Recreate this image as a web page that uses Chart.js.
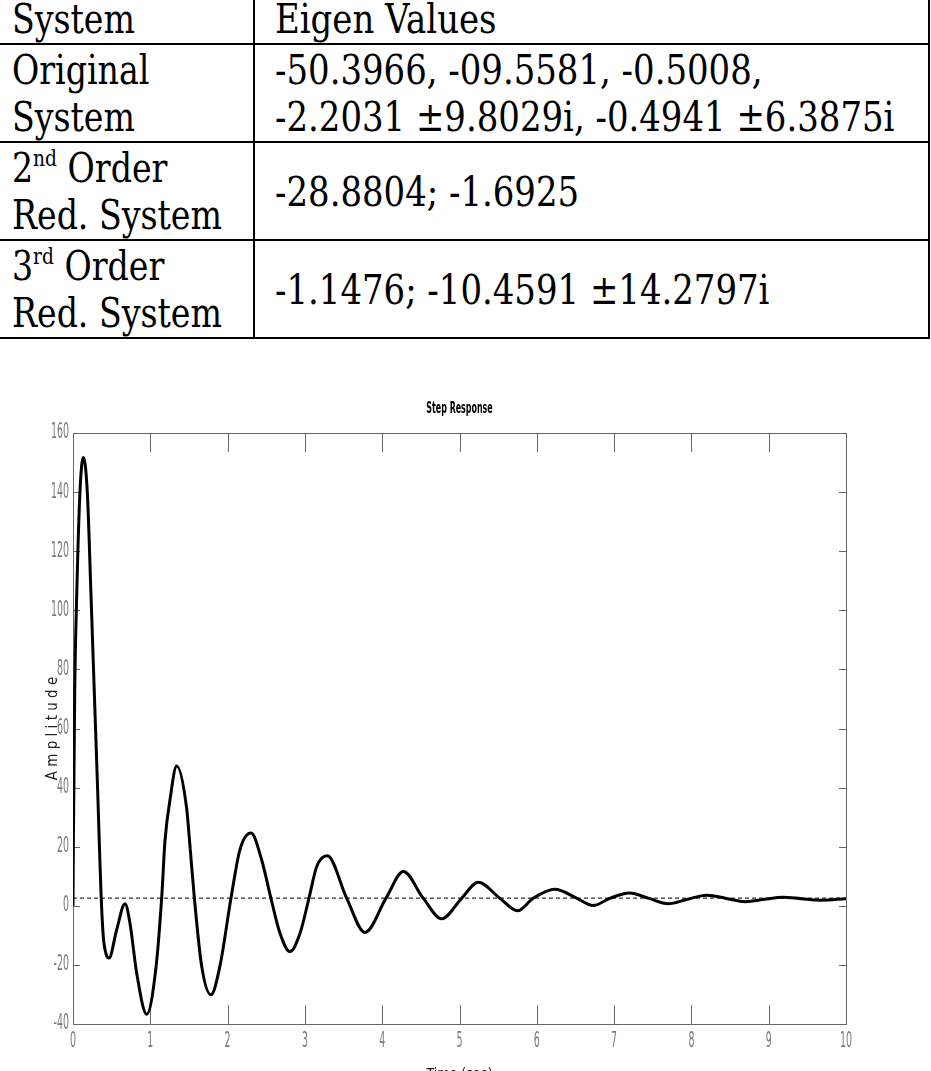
<!DOCTYPE html>
<html>
<head>
<meta charset="utf-8">
<script src="https://cdn.jsdelivr.net/npm/chart.js@4"></script>
<style>
  body { margin: 0; background: #fff; overflow: hidden; width: 931px; height: 1071px; position: relative; }
  #eig { position: absolute; left: -2px; top: -8px; width: 930px; table-layout: fixed; border-collapse: collapse;
         font-family: "DejaVu Serif Condensed", "DejaVu Serif", serif;
         font-size: 41px; line-height: 47px; color: #000; }
  #eig td { border: 2px solid #000; padding: 2px 0 0 0; vertical-align: top; white-space: nowrap; overflow: visible; }
  #eig td.c1 { padding-left: 12px; }
  #eig td.c2 { padding-left: 20px; }
  #eig td.mid { vertical-align: middle; }
  #eig .sq { display: block; transform: scaleX(0.9); transform-origin: 0 50%; }
  #eig td.c2 .sq { transform: scaleX(0.92); }
  #eig sup { font-size: 23px; line-height: 0; vertical-align: 16px; }
  #wrap { position: absolute; left: 0; top: 395px; width: 931px; height: 695px; }
</style>
</head>
<body>
<table id="eig">
  <colgroup><col style="width:255px"><col style="width:675px"></colgroup>
  <tr><td class="c1"><span class="sq">System</span></td><td class="c2"><span class="sq">Eigen Values</span></td></tr>
  <tr><td class="c1"><span class="sq">Original<br>System</span></td><td class="c2"><span class="sq">-50.3966, -09.5581, -0.5008,<br>-2.2031 ±9.8029i, -0.4941 ±6.3875i</span></td></tr>
  <tr><td class="c1"><span class="sq">2<sup>nd</sup> Order<br>Red. System</span></td><td class="c2 mid"><span class="sq">-28.8804; -1.6925</span></td></tr>
  <tr><td class="c1"><span class="sq">3<sup>rd</sup> Order<br>Red. System</span></td><td class="c2 mid"><span class="sq">-1.1476; -10.4591 ±14.2797i</span></td></tr>
</table>
<div id="wrap"><canvas id="stepChart"></canvas></div>
<script>
// step response
const timeSec = [0, 0.004, 0.022, 0.048, 0.09, 0.133, 0.185, 0.233, 0.263, 0.293, 0.319, 0.342, 0.365, 0.392, 0.43, 0.466,
  0.565, 0.673, 0.737, 0.824, 0.953, 1.07, 1.147, 1.19, 1.255, 1.341, 1.47, 1.514, 1.57, 1.665, 1.785, 1.90,
  2.044, 2.16, 2.303, 2.44, 2.56, 2.678, 2.807, 2.937, 3.053, 3.153, 3.29, 3.54, 3.777, 4.05, 4.273, 4.53,
  4.77, 5.03, 5.243, 5.52, 5.75, 5.955, 6.235, 6.515, 6.73, 6.95, 7.2, 7.45, 7.7, 7.95, 8.2, 8.45, 8.7,
  8.95, 9.18, 9.42, 9.67, 10];
const amplitude = [0, 19, 72, 105, 140, 151.7, 140, 105, 82, 59, 39, 20, 2.6, -10.4, -16.5, -17.7,
  -8.1, 0.7, -5.9, -22.8, -36.7, -21.7, 2.6, 22, 35.9, 47.3, 33, 20, 2.6, -20.5, -30.1, -20.5,
  2.6, 19, 24.6, 15.6, 2.6, -9.3, -15.5, -9.3, 2.6, 13.3, 16.9, 2.6, -9.0, 2.6, 11.6, 2.6,
  -4.4, 2.6, 8.0, 2.6, -1.7, 2.6, 5.6, 2.6, 0.1, 2.6, 4.3, 2.5, 0.7, 2.2, 3.6, 2.5, 1.4,
  2.2, 2.9, 2.4, 1.9, 2.4];
// final value (dashed line)
const steadyTime = [0, 10];
const steadyValue = [2.6, 2.6];

const xTicks = [0, 1, 2, 3, 4, 5, 6, 7, 8, 9, 10];
const yTicks = [-40, -20, 0, 20, 40, 60, 80, 100, 120, 140, 160];

function squeezed(ctx, text, x, y, align, sx) {
  ctx.save();
  ctx.translate(x, y);
  ctx.scale(sx, 1);
  ctx.textAlign = align;
  ctx.textBaseline = 'middle';
  ctx.fillText(text, 0, 0);
  ctx.restore();
}

// matlab style box with inward ticks on all sides
const boxPlugin = {
  id: 'boxPlugin',
  beforeDatasetsDraw(chart) {
    const {ctx, chartArea: a, scales: {x, y}} = chart;
    ctx.save();
    ctx.strokeStyle = '#666';
    ctx.lineWidth = 1;
    ctx.strokeRect(Math.round(a.left) + 0.5, Math.round(a.top) + 0.5, Math.round(a.right - a.left), Math.round(a.bottom - a.top));
    ctx.beginPath();
    xTicks.forEach(v => {
      const px = Math.round(x.getPixelForValue(v)) + 0.5;
      ctx.moveTo(px, a.bottom); ctx.lineTo(px, a.bottom - 19);
      ctx.moveTo(px, a.top); ctx.lineTo(px, a.top + 19);
    });
    yTicks.forEach(v => {
      const py = Math.round(y.getPixelForValue(v)) + 0.5;
      ctx.moveTo(a.left, py); ctx.lineTo(a.left + 7, py);
      ctx.moveTo(a.right, py); ctx.lineTo(a.right - 7, py);
    });
    ctx.stroke();
    ctx.restore();
  },
  afterDraw(chart) {
    const {ctx, chartArea: a, scales: {x, y}} = chart;
    ctx.save();
    ctx.fillStyle = '#7a7a7a';
    ctx.font = '21px "Liberation Sans Narrow", "DejaVu Sans Condensed", sans-serif';
    xTicks.forEach(v => squeezed(ctx, String(v), x.getPixelForValue(v), a.bottom + 18, 'center', 0.5));
    yTicks.forEach(v => squeezed(ctx, String(v), a.left - 4, y.getPixelForValue(v), 'right', 0.5));
    ctx.fillStyle = '#000';
    ctx.font = 'bold 16px "DejaVu Sans Condensed", "DejaVu Sans", sans-serif';
    squeezed(ctx, 'Step Response', (a.left + a.right) / 2, 14, 'center', 0.55);
    ctx.restore();
  }
};

new Chart(document.getElementById('stepChart').getContext('2d'), {
  type: 'line',
  data: {
    datasets: [{
      label: 'Step response',
      data: timeSec.map((t, i) => ({x: t, y: amplitude[i]})),
      borderColor: '#000',
      borderWidth: 3,
      pointRadius: 0,
      cubicInterpolationMode: 'monotone',
      fill: false
    }, {
      label: 'Final value',
      data: steadyTime.map((t, i) => ({x: t, y: steadyValue[i]})),
      borderColor: '#000',
      borderWidth: 1,
      borderDash: [4, 3],
      pointRadius: 0,
      fill: false
    }]
  },
  options: {
    responsive: true,
    maintainAspectRatio: false,
    animation: false,
    layout: { padding: { top: 38, right: 85, left: 0, bottom: 0 } },
    plugins: { legend: { display: false }, title: { display: false }, tooltip: { enabled: false } },
    scales: {
      x: {
        type: 'linear', min: 0, max: 10,
        grid: { display: false }, border: { display: false },
        ticks: { display: false, stepSize: 1 },
        title: { display: true, text: 'Time (sec)', color: '#111',
                 font: { family: 'DejaVu Sans Condensed', size: 14 }, padding: { top: 0, bottom: 7 } },
        afterFit: s => { s.height = 66; }
      },
      y: {
        min: -40, max: 160,
        grid: { display: false }, border: { display: false },
        ticks: { display: false, stepSize: 20 },
        title: { display: true, text: 'A m p l i t u d e', color: '#222',
                 font: { family: 'DejaVu Sans Condensed', size: 15 }, padding: { top: 44, bottom: 0 } },
        afterFit: s => { s.width = 73; }
      }
    }
  },
  plugins: [boxPlugin]
});
</script>
</body>
</html>
